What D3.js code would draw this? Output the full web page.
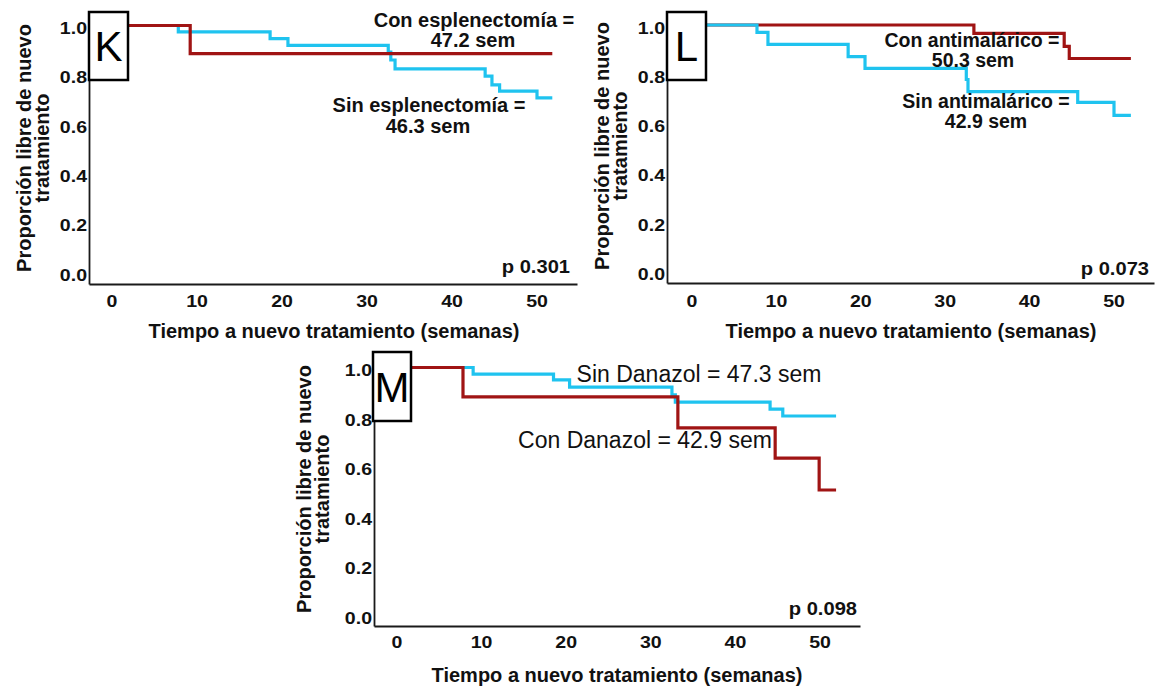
<!DOCTYPE html>
<html><head><meta charset="utf-8">
<script src="https://cdn.jsdelivr.net/npm/d3@7"></script>
<style>body{margin:0;background:#fff} svg{display:block}</style>
</head><body>
<svg id="c" width="1156" height="688"></svg>
<script>
const xTicks = [0, 10, 20, 30, 40, 50];
const yTicks = [0.0, 0.2, 0.4, 0.6, 0.8, 1.0];
const panelLetters = ["K", "L", "M"];
const pValues = ["p 0.301", "p 0.073", "p 0.098"];
const yTitleLines = ["Proporción libre de nuevo", "tratamiento"];
const xTitle = "Tiempo a nuevo tratamiento (semanas)";

// Panel K: esplenectomía
const kConTime = [0, 9.2, 51.8];
const kConSurv = [1.0, 0.886, 0.886];
const kSinTime = [0, 7.8, 18.6, 20.7, 32.5, 32.8, 33.3, 43.9, 44.7, 45.6, 50.0, 51.8];
const kSinSurv = [1.0, 0.974, 0.947, 0.919, 0.892, 0.86, 0.824, 0.795, 0.759, 0.734, 0.706, 0.706];
const kLabels = ["Con esplenectomía =", "47.2 sem", "Sin esplenectomía =", "46.3 sem"];

// Panel L: antimalárico
const lConTime = [0, 33.4, 44.1, 44.7, 52.0];
const lConSurv = [1.0, 0.966, 0.913, 0.864, 0.864];
const lSinTime = [0, 7.7, 9.0, 18.5, 20.5, 32.5, 32.7, 45.7, 50.0, 52.0];
const lSinSurv = [1.0, 0.97, 0.921, 0.872, 0.824, 0.779, 0.73, 0.686, 0.633, 0.633];
const lLabels = ["Con antimalárico =", "50.3 sem", "Sin antimalárico =", "42.9 sem"];

// Panel M: danazol
const mConTime = [0, 7.8, 33.2, 44.7, 49.9, 51.9];
const mConSurv = [1.0, 0.881, 0.756, 0.634, 0.505, 0.505];
const mSinTime = [0, 9.0, 18.5, 20.4, 32.5, 32.9, 44.1, 45.6, 51.9];
const mSinSurv = [1.0, 0.973, 0.95, 0.921, 0.89, 0.86, 0.832, 0.804, 0.804];
const mLabels = ["Sin Danazol = 47.3 sem", "Con Danazol = 42.9 sem"];

const RED = "#a01414", CYAN = "#1fc3ef";
const FONT = "'Liberation Sans', Arial, Helvetica, sans-serif";

const layouts = [
  { axisX: 89, axisRight: 577, axisY: 284, top: 12, t0: 112, ppu: 8.5, y1: 25.5, y0: 272,
    box: [89, 12, 39, 68], pRight: 570, pBase: 273, xtX: 334, xtY: 338, ytX: [31, 49], ytY: 148,
    tickY: 307, on: "red",
    series: [[kConTime, kConSurv, RED], [kSinTime, kSinSurv, CYAN]],
    labels: kLabels, labelPos: [[474, 27], [473, 47], [429, 112], [428, 133]], labelWeight: "bold", labelSize: 20 },
  { axisX: 667, axisRight: 1154, axisY: 283, top: 12, t0: 692, ppu: 8.44, y1: 25, y0: 271.5,
    box: [667, 12, 39, 68], pRight: 1149, pBase: 275, xtX: 911, xtY: 338, ytX: [609, 627], ytY: 146,
    tickY: 307, on: "cyan",
    series: [[lConTime, lConSurv, RED], [lSinTime, lSinSurv, CYAN]],
    labels: lLabels, labelPos: [[972, 47], [973, 67], [986, 108], [986, 128]], labelWeight: "bold", labelSize: 19.5 },
  { axisX: 374, axisRight: 860, axisY: 626, top: 352, t0: 397, ppu: 8.46, y1: 367.5, y0: 615,
    box: [373, 352, 38, 69], pRight: 857, pBase: 615, xtX: 617, xtY: 682, ytX: [311, 329], ytY: 489,
    tickY: 648, on: "red",
    series: [[mConTime, mConSurv, RED], [mSinTime, mSinSurv, CYAN]],
    labels: mLabels, labelPos: [[699, 382], [645, 448]], labelWeight: "normal", labelSize: 23 }
];

const svg = d3.select("#c");
svg.append("rect").attr("width", 1156).attr("height", 688).attr("fill", "#fff");

const SX = 1.15; // horizontal stretch of the native axis texts

layouts.forEach((L, i) => {
  const g = svg.append("g");
  const x = d3.scaleLinear()
    .domain([(L.axisX - L.t0) / L.ppu, (L.axisRight - L.t0) / L.ppu])
    .range([L.axisX, L.axisRight]);
  const y = d3.scaleLinear().domain([0, 1]).range([L.y0, L.y1]);

  // axes lines (no tick marks)
  const xAxis = d3.axisBottom(x).tickValues(xTicks).tickSize(0).tickFormat("");
  const xg = g.append("g").attr("transform", `translate(0,${L.axisY})`).call(xAxis);
  xg.select(".domain").attr("stroke", "#1a1a1a").attr("stroke-width", 2.2);
  const yAxis = d3.axisLeft(d3.scaleLinear().domain([0, 1]).range([L.axisY, L.top])).tickValues([]).tickSize(0);
  const yg = g.append("g").attr("transform", `translate(${L.axisX},0)`).call(yAxis);
  yg.select(".domain").attr("stroke", "#1a1a1a").attr("stroke-width", 1.8);

  // tick labels
  g.selectAll(".xt").data(xTicks).join("text")
    .attr("transform", d => `translate(${x(d)},${L.tickY}) scale(${SX},1)`)
    .attr("text-anchor", "middle").attr("font-family", FONT).attr("font-weight", "bold")
    .attr("font-size", 17).attr("fill", "#111").text(d => d);
  g.selectAll(".yt").data(yTicks).join("text")
    .attr("transform", d => `translate(${L.axisX - 2},${y(d) + 8.5}) scale(${SX},1)`)
    .attr("text-anchor", "end").attr("font-family", FONT).attr("font-weight", "bold")
    .attr("font-size", 17).attr("fill", "#111").text(d => d.toFixed(1));

  // survival step curves
  const line = d3.line().x(d => x(d[0])).y(d => y(d[1])).curve(d3.curveStepAfter);
  const ordered = L.on === "red" ? [L.series[1], L.series[0]] : [L.series[0], L.series[1]];
  ordered.forEach(([ts, ss, col]) => {
    const pts = ts.map((t, k) => [t, ss[k]]);
    g.append("path").attr("d", line(pts)).attr("fill", "none")
      .attr("stroke", col).attr("stroke-width", 3.2).attr("stroke-linejoin", "miter");
  });

  // panel letter box
  g.append("rect").attr("x", L.box[0]).attr("y", L.box[1]).attr("width", L.box[2]).attr("height", L.box[3])
    .attr("fill", "#fff").attr("stroke", "#000").attr("stroke-width", 2.5);
  g.append("text").attr("x", L.box[0] + L.box[2] / 2).attr("y", L.box[1] + L.box[3] / 2 + 15)
    .attr("text-anchor", "middle").attr("font-family", FONT).attr("font-size", 42)
    .attr("fill", "#000").text(panelLetters[i]);

  // p value
  g.append("text").attr("transform", `translate(${L.pRight},${L.pBase}) scale(${SX},1)`)
    .attr("text-anchor", "end")
    .attr("font-family", FONT).attr("font-weight", "bold").attr("font-size", 17.5)
    .attr("fill", "#111").text(pValues[i]);

  // axis titles
  g.append("text").attr("x", L.xtX).attr("y", L.xtY).attr("text-anchor", "middle")
    .attr("font-family", FONT).attr("font-weight", "bold").attr("font-size", 20)
    .attr("fill", "#111").text(xTitle);
  yTitleLines.forEach((s, k) => {
    g.append("text").attr("transform", `translate(${L.ytX[k]},${L.ytY}) rotate(-90)`)
      .attr("text-anchor", "middle").attr("font-family", FONT).attr("font-weight", "bold")
      .attr("font-size", 20).attr("fill", "#111").text(s);
  });

  // annotations
  L.labels.forEach((s, k) => {
    g.append("text").attr("x", L.labelPos[k][0]).attr("y", L.labelPos[k][1])
      .attr("text-anchor", "middle").attr("font-family", FONT).attr("font-weight", L.labelWeight)
      .attr("font-size", L.labelSize).attr("fill", "#111").text(s);
  });
});
</script>
</body></html>
